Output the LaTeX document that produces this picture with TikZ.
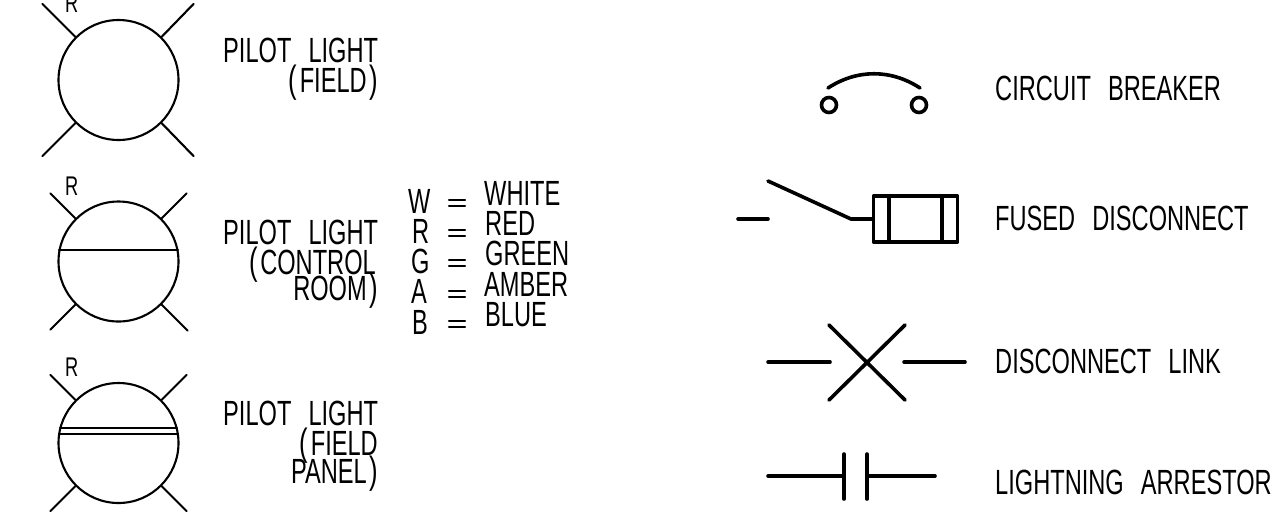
\documentclass[tikz,border=0pt]{standalone}
\usepackage{fontspec}
\setmainfont[FakeStretch=0.675,WordSpace=2.6]{Liberation Sans}
\newcommand\lpar{{\fontsize{38}{30}\selectfont(}\kern2.5pt}
\newcommand\rpar{\kern2.5pt{\fontsize{38}{30}\selectfont)}}
\tikzset{
  x=1pt,y=-1pt,
  thin line/.style={line width=2.1pt,line cap=round,line join=round},
  bold line/.style={line width=3.6pt,line cap=round,line join=round},
  lamp/.style={circle,draw,line width=2.1pt,minimum size=120pt,inner sep=0pt},
  terminal/.style={circle,draw,line width=3.6pt,minimum size=15pt,inner sep=0pt},
  lbl/.style={inner sep=0pt,font=\fontsize{35}{30}\selectfont},
  rlbl/.style={lbl,anchor=base west},
  elbl/.style={lbl,anchor=base east},
  tag/.style={rlbl,font=\fontsize{27}{27}\selectfont},
}
\begin{document}
\begin{tikzpicture}
\useasboundingbox (0,0) rectangle (1273,531);
% lamps
\node[lamp] (a) at (118.5,80) {};
\node[lamp] (b) at (118.5,261.5) {};
\node[lamp] (c) at (118.5,443) {};
\draw[thin line] (a.135) -- ++(-33,-33) (a.45) -- ++(32,-33) (a.225) -- ++(-33,33) (a.315) -- ++(32,33);
\draw[thin line] (b.135) -- ++(-25,-25) (b.45) -- ++(25,-25) (b.225) -- ++(-25,25) (b.315) -- ++(26,26);
\draw[thin line] (c.135) -- ++(-25,-25) (c.45) -- ++(25,-25) (c.225) -- ++(-25,25) (c.315) -- ++(25,25);
\draw[thin line] (59,250) -- (178,250);
\draw[thin line] (60,428) -- (177,428) (59,434) -- (178,434);
\node[tag] (ra) at (65,12) {R};
\node[tag] (rb) at (65,195) {R};
\node[tag] (rc) at (65,376) {R};
% left labels
\node[rlbl] (l1) at (223,62) {PILOT LIGHT};
\node[elbl] (l2) at (378,92) {\lpar FIELD\rpar};
\node[rlbl] (l3) at (223,244) {PILOT LIGHT};
\node[elbl] (l4) at (376,274) {\lpar CONTROL};
\node[elbl] (l5) at (378,300) {ROOM\rpar};
\node[rlbl] (l6) at (223,425) {PILOT LIGHT};
\node[elbl] (l7) at (378,455) {\lpar FIELD};
\node[elbl] (l8) at (378,483) {PANEL\rpar};
% colour key
\node[rlbl] (k1) at (408,213) {W};
\node[rlbl] (k2) at (412,243) {R};
\node[rlbl] (k3) at (411,273) {G};
\node[rlbl] (k4) at (411,303) {A};
\node[rlbl] (k5) at (412,334) {B};
\foreach \y in {203,233,263,294,324}{
  \draw[thin line] (449,\y-3) -- (465,\y-3) (449,\y+3) -- (465,\y+3);
}
\node[rlbl] (v1) at (484,205) {WHITE};
\node[rlbl] (v2) at (485,235) {RED};
\node[rlbl] (v3) at (485,265) {GREEN};
\node[rlbl] (v4) at (484,296) {AMBER};
\node[rlbl] (v5) at (485,326) {BLUE};
% right labels
\node[rlbl] (t1) at (995,100) {CIRCUIT BREAKER};
\node[rlbl] (t2) at (995,230) {FUSED DISCONNECT};
\node[rlbl] (t3) at (995,373) {DISCONNECT LINK};
\node[rlbl] (t4) at (995,494) {LIGHTNING ARRESTOR};
% circuit breaker
\coordinate (cbl) at (828,88);
\coordinate (cbr) at (920,88);
\draw[bold line] (cbl) .. controls (857,69) and (891,69) .. (cbr);
\node[terminal] (o1) at (829,105) {};
\node[terminal] (o2) at (919,105) {};
% fused disconnect
\draw[bold line] (738,219) -- (768,219);
\draw[bold line] (768,181) -- (851,219) -- (873,219);
\draw[bold line] (873.5,196) rectangle (957.5,242);
\draw[bold line] (889,196) -- (889,242) (942,196) -- (942,242);
% disconnect link
\draw[bold line] (768,362) -- (830,362) (904,362) -- (965,362);
\draw[bold line] (829,325) -- (905,400) (905,325) -- (829,400);
% arrestor
\draw[bold line] (768,476) -- (844,476) (867,476) -- (935,476);
\draw[bold line] (844,454) -- (844,499) (867,454) -- (867,499);
\end{tikzpicture}
\end{document}
